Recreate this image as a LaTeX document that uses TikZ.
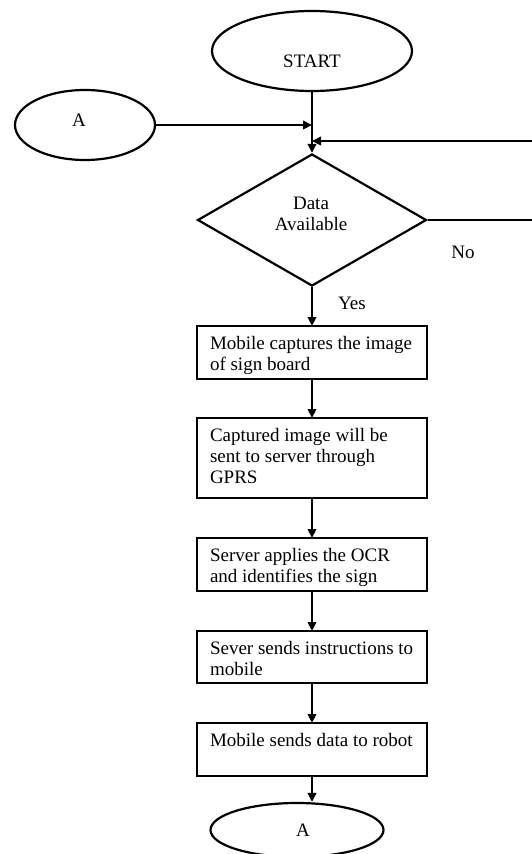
\documentclass[tikz,border=0pt]{standalone}
\usepackage{fontspec}
\setmainfont{Liberation Serif}
\usetikzlibrary{shapes.geometric,arrows.meta}
\newcommand{\bxtxt}[2]{\parbox[c][#1][t]{204pt}{\raggedright\vspace*{8.8pt}\strut #2}}
\begin{document}
\begin{tikzpicture}[x=1pt,y=-1pt,
  every node/.style={font=\fontsize{19}{21}\selectfont},
  line/.style={line width=2.2pt},
  arr/.style={line width=2.2pt,-{Triangle[length=9pt,width=8.5pt]}},
  term/.style={ellipse,draw,line width=2.2pt,inner sep=0pt},
  proc/.style={rectangle,draw,line width=2.8pt,inner xsep=13pt,inner ysep=0pt,anchor=north,outer sep=0pt},
  dec/.style={diamond,draw,line width=2.2pt,inner sep=0pt}]
\useasboundingbox (0,0) rectangle (532,854);
% terminals and decision
\node[term,minimum width=200pt,minimum height=80pt] (start) at (312,51) {};
\node (starttxt) at (312,61) {START};
\node[term,minimum width=140pt,minimum height=70pt] (ain) at (85,125) {};
\node (aintxt) at (79,120) {A};
\node[dec,minimum width=229pt,minimum height=132pt] (decn) at (312,220) {};
\node[align=center] (dectxt) at (311,214) {Data\\Available};
\coordinate (fbin) at (545,141);
\coordinate (noend) at (545,222);
% labels
\node (yes) at (352,303) {Yes};
\node (no) at (463,252) {No};
% process boxes
\node[proc] (b1) at (312,326) {\bxtxt{53pt}{Mobile captures the image\\of sign board}};
\node[proc] (b2) at (312,418) {\bxtxt{80pt}{Captured image will be\\sent to server through\\GPRS}};
\node[proc] (b3) at (312,538) {\bxtxt{53pt}{Server applies the OCR\\and identifies the sign}};
\node[proc] (b4) at (312,631) {\bxtxt{52pt}{Sever sends instructions to\\mobile}};
\node[proc] (b5) at (312,723) {\bxtxt{53pt}{Mobile sends data to robot}};
\node[term,minimum width=173pt,minimum height=54pt] (aout) at (297,830) {};
\node (aouttxt) at (303,830) {A};
% connectors
\draw[arr] (start.south) -- (decn.north);
\draw[arr] (ain.east) -- (ain.east -| start.south);
\draw[arr] (fbin) -- (start.south |- fbin);
\draw[line] (decn.east) -- (decn.east -| noend);
\draw[arr] (decn.south) -- (b1.north);
\draw[arr] (b1.south) -- (b2.north);
\draw[arr] (b2.south) -- (b3.north);
\draw[arr] (b3.south) -- (b4.north);
\draw[arr] (b4.south) -- (b5.north);
\draw[arr] (b5.south) -- (b5.south |- aout.north);
\end{tikzpicture}
\end{document}
